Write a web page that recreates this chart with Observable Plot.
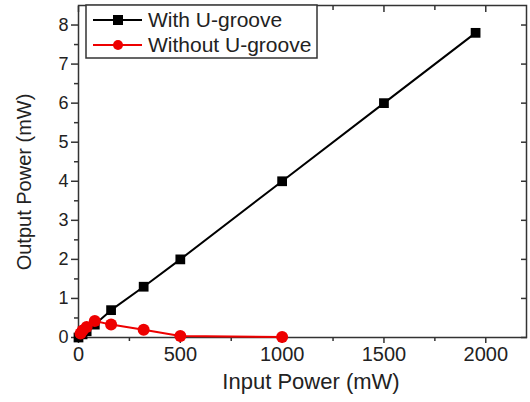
<!DOCTYPE html>
<html><head><meta charset="utf-8">
<script src="https://cdn.jsdelivr.net/npm/d3@7"></script>
<script src="https://cdn.jsdelivr.net/npm/@observablehq/plot@0.6"></script>
<style>
body{margin:0;background:#fff;font-family:"Liberation Sans",Arial,sans-serif;}
#wrap{position:relative;width:530px;height:402px;}
.lbl{position:absolute;color:#222;white-space:nowrap;font-family:"Liberation Sans",Arial,sans-serif;}
</style></head><body>
<div id="wrap"></div>
<script>
const withInput = [0, 20, 40, 80, 160, 320, 500, 1000, 1500, 1950];
const withOutput = [0, 0.08, 0.16, 0.33, 0.7, 1.3, 2.0, 4.0, 6.0, 7.8];
const withoutInput = [10, 20, 40, 80, 160, 320, 500, 1000];
const withoutOutput = [0.1, 0.18, 0.27, 0.42, 0.33, 0.2, 0.04, 0.01];
const xTicks = [0, 500, 1000, 1500, 2000];
const xMinor = [250, 750, 1250, 1750];
const yTicks = [0, 1, 2, 3, 4, 5, 6, 7, 8];
const yMinor = [0.5, 1.5, 2.5, 3.5, 4.5, 5.5, 6.5, 7.5];
const seriesNames = ["With U-groove", "Without U-groove"];
const seriesColors = ["#000000", "#ee0000"];

const a = withInput.map((x, i) => ({x, y: withOutput[i]}));
const b = withoutInput.map((x, i) => ({x, y: withoutOutput[i]}));
const ax = "#333";
const fmt = d => String(d);
const none = () => "";

const chart = Plot.plot({
  width: 530, height: 402,
  marginLeft: 78, marginRight: 4, marginTop: 5, marginBottom: 65,
  style: {fontFamily: "Liberation Sans, Arial, sans-serif", fontSize: "20px", color: "#222", background: "#fff"},
  x: {domain: [0, 2200]},
  y: {domain: [0, 8.5]},
  marks: [
    Plot.axisX({ticks: xTicks, tickSize: 6, tickPadding: 3, tickFormat: fmt, label: null, stroke: ax, strokeWidth: 1.5}),
    Plot.axisX({ticks: xMinor, tickSize: 4, tickFormat: none, label: null, stroke: ax, strokeWidth: 1.5}),
    Plot.axisX({anchor: "top", ticks: xTicks, tickSize: -6, tickFormat: none, label: null, stroke: ax, strokeWidth: 1.5}),
    Plot.axisX({anchor: "top", ticks: xMinor, tickSize: -4, tickFormat: none, label: null, stroke: ax, strokeWidth: 1.5}),
    Plot.axisY({ticks: yTicks, tickSize: 7, tickPadding: 3, tickFormat: fmt, label: null, stroke: ax, strokeWidth: 1.5}),
    Plot.axisY({ticks: yMinor, tickSize: 4, tickFormat: none, label: null, stroke: ax, strokeWidth: 1.5}),
    Plot.axisY({anchor: "right", ticks: yTicks, tickSize: -6, tickFormat: none, label: null, stroke: ax, strokeWidth: 1.5}),
    Plot.frame({stroke: ax, strokeWidth: 1.5}),
    Plot.line(a, {x: "x", y: "y", stroke: seriesColors[0], strokeWidth: 2}),
    Plot.dot(a, {x: "x", y: "y", symbol: "square", fill: seriesColors[0], r: 5.5}),
    Plot.line(b, {x: "x", y: "y", stroke: seriesColors[1], strokeWidth: 2}),
    Plot.dot(b, {x: "x", y: "y", symbol: "circle", fill: seriesColors[1], r: 6})
  ]
});
// enforce tick label sizes
chart.querySelectorAll("text").forEach(t => {
  let el = t, anchor = null;
  while (el && el !== chart && !anchor) { anchor = el.getAttribute && el.getAttribute("text-anchor"); el = el.parentNode; }
  t.style.fontSize = anchor === "end" ? "18px" : "20px";
  t.style.fontFamily = "Liberation Sans, Arial, sans-serif";
});

const wrap = document.getElementById("wrap");
wrap.appendChild(chart);

// axis titles
const xl = document.createElement("div");
xl.className = "lbl"; xl.textContent = "Input Power (mW)";
xl.style.fontSize = "22px";
xl.style.left = "311px"; xl.style.top = "369px"; xl.style.transform = "translateX(-50%)";
wrap.appendChild(xl);
const yl = document.createElement("div");
yl.className = "lbl"; yl.textContent = "Output Power (mW)";
yl.style.fontSize = "20px";
yl.style.left = "24px"; yl.style.top = "182px"; yl.style.transform = "translate(-50%,-50%) rotate(-90deg)";
wrap.appendChild(yl);

// legend
const ns = "http://www.w3.org/2000/svg";
const lg = document.createElementNS(ns, "svg");
lg.setAttribute("width", 234); lg.setAttribute("height", 56);
lg.style.position = "absolute"; lg.style.left = "85px"; lg.style.top = "4px";
const box = document.createElementNS(ns, "rect");
box.setAttribute("x", 1); box.setAttribute("y", 1); box.setAttribute("width", 231); box.setAttribute("height", 53);
box.setAttribute("fill", "#fff"); box.setAttribute("stroke", ax); box.setAttribute("stroke-width", 1.5);
lg.appendChild(box);
seriesNames.forEach((name, i) => {
  const cy = 16 + i * 25;
  const ln = document.createElementNS(ns, "line");
  ln.setAttribute("x1", 8); ln.setAttribute("x2", 57); ln.setAttribute("y1", cy); ln.setAttribute("y2", cy);
  ln.setAttribute("stroke", seriesColors[i]); ln.setAttribute("stroke-width", 2);
  lg.appendChild(ln);
  let m;
  if (i === 0) {
    m = document.createElementNS(ns, "rect");
    m.setAttribute("x", 28); m.setAttribute("y", cy - 5); m.setAttribute("width", 10); m.setAttribute("height", 10);
  } else {
    m = document.createElementNS(ns, "circle");
    m.setAttribute("cx", 33); m.setAttribute("cy", cy); m.setAttribute("r", 5);
  }
  m.setAttribute("fill", seriesColors[i]);
  lg.appendChild(m);
  const t = document.createElementNS(ns, "text");
  t.setAttribute("x", 63); t.setAttribute("y", cy + 7);
  t.setAttribute("font-size", 21); t.setAttribute("font-family", "Liberation Sans, Arial, sans-serif");
  t.setAttribute("fill", "#222");
  t.textContent = name;
  lg.appendChild(t);
});
wrap.appendChild(lg);
</script>
</body></html>
